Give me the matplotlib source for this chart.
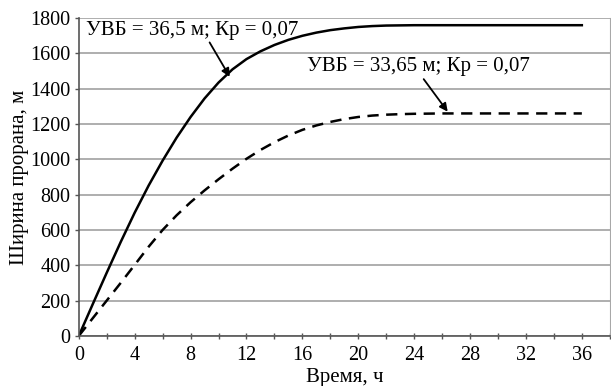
import matplotlib
matplotlib.use("Agg")
import matplotlib.pyplot as plt
from matplotlib.ticker import MultipleLocator, FuncFormatter

plt.rcParams['font.family'] = ['Liberation Serif', 'DejaVu Serif']

# Time, h
t_high = [0, 1, 2, 3, 4, 5, 6, 7, 8, 9, 10, 11, 12, 13, 14, 15, 16, 17, 18, 19, 20, 21, 22,
          24, 28, 32, 36]
# Breach width, m (УВБ = 36,5 м)
w_high = [0, 180, 358, 532, 698, 852, 993, 1123, 1240, 1345, 1435, 1510, 1568, 1612, 1648,
          1677, 1700, 1718, 1732, 1742, 1750, 1755, 1758, 1760, 1760, 1760, 1760]

t_low = [0, 1, 2, 3, 4, 5, 6, 7, 8, 9, 10, 11, 12, 13, 14, 15, 16, 17, 18, 19, 20, 21, 22,
         23, 24, 26, 36]
# Breach width, m (УВБ = 33,65 м)
w_low = [0, 100, 200, 300, 402, 505, 600, 683, 757, 824, 887, 947, 1003, 1053, 1097, 1135,
         1167, 1192, 1212, 1228, 1240, 1248, 1253, 1256, 1258, 1260, 1260]

label_high = "УВБ = 36,5 м; Кр = 0,07"
label_low = "УВБ = 33,65 м; Кр = 0,07"

fig = plt.figure(figsize=(6.11, 3.86), dpi=100)
ax = fig.add_axes([0.129, 0.130, 0.869, 0.823])

ax.plot(t_high, w_high, color='black', lw=1.8, solid_joinstyle='round')
ax.plot(t_low, w_low, color='black', lw=1.8, linestyle=(0, (4.5, 3)))

ax.set_xlim(0, 38)
ax.set_ylim(0, 1800)
ax.xaxis.set_major_locator(MultipleLocator(2))
ax.xaxis.set_major_formatter(FuncFormatter(lambda v, p: f"{int(v)}" if int(v) % 4 == 0 else ""))
ax.yaxis.set_major_locator(MultipleLocator(200))

# grid and frame
ax.grid(axis='y', color='#a8a8a8', lw=1.3)
ax.set_axisbelow(True)
ax.spines['top'].set_visible(False)
ax.spines['right'].set_color('#a8a8a8')
ax.spines['left'].set_color('#555555')
ax.spines['bottom'].set_color('#555555')
ax.spines['left'].set_linewidth(1.2)
ax.spines['bottom'].set_linewidth(1.2)
ax.tick_params(axis='x', direction='inout', length=4, width=1, colors='#555555',
               labelcolor='black', labelsize=14.5, pad=5)
ax.tick_params(axis='y', direction='out', length=3, width=1, colors='#555555',
               labelcolor='black', labelsize=14.5, pad=3)

ax.set_xlabel("Время, ч", fontsize=15)
ax.set_ylabel("Ширина прорана, м", fontsize=15)
ax.xaxis.label.set_va('center')
ax.yaxis.label.set_va('center')
ax.xaxis.set_label_coords(0.5, -0.131)
ax.yaxis.set_label_coords(-0.111, 0.5)

ax.annotate(label_high, xy=(10.8, 1468), xytext=(0.5, 1732), fontsize=15,
            ha='left', va='center',
            arrowprops=dict(arrowstyle='-|>', color='black', lw=1.3, mutation_scale=12,
                            shrinkA=0, shrinkB=0, relpos=(0.57, 0.1)))
ax.annotate(label_low, xy=(26.4, 1270), xytext=(16.3, 1524), fontsize=15,
            ha='left', va='center',
            arrowprops=dict(arrowstyle='-|>', color='black', lw=1.3, mutation_scale=12,
                            shrinkA=0, shrinkB=0, relpos=(0.51, 0.1)))

plt.savefig("out.png", dpi=100)
